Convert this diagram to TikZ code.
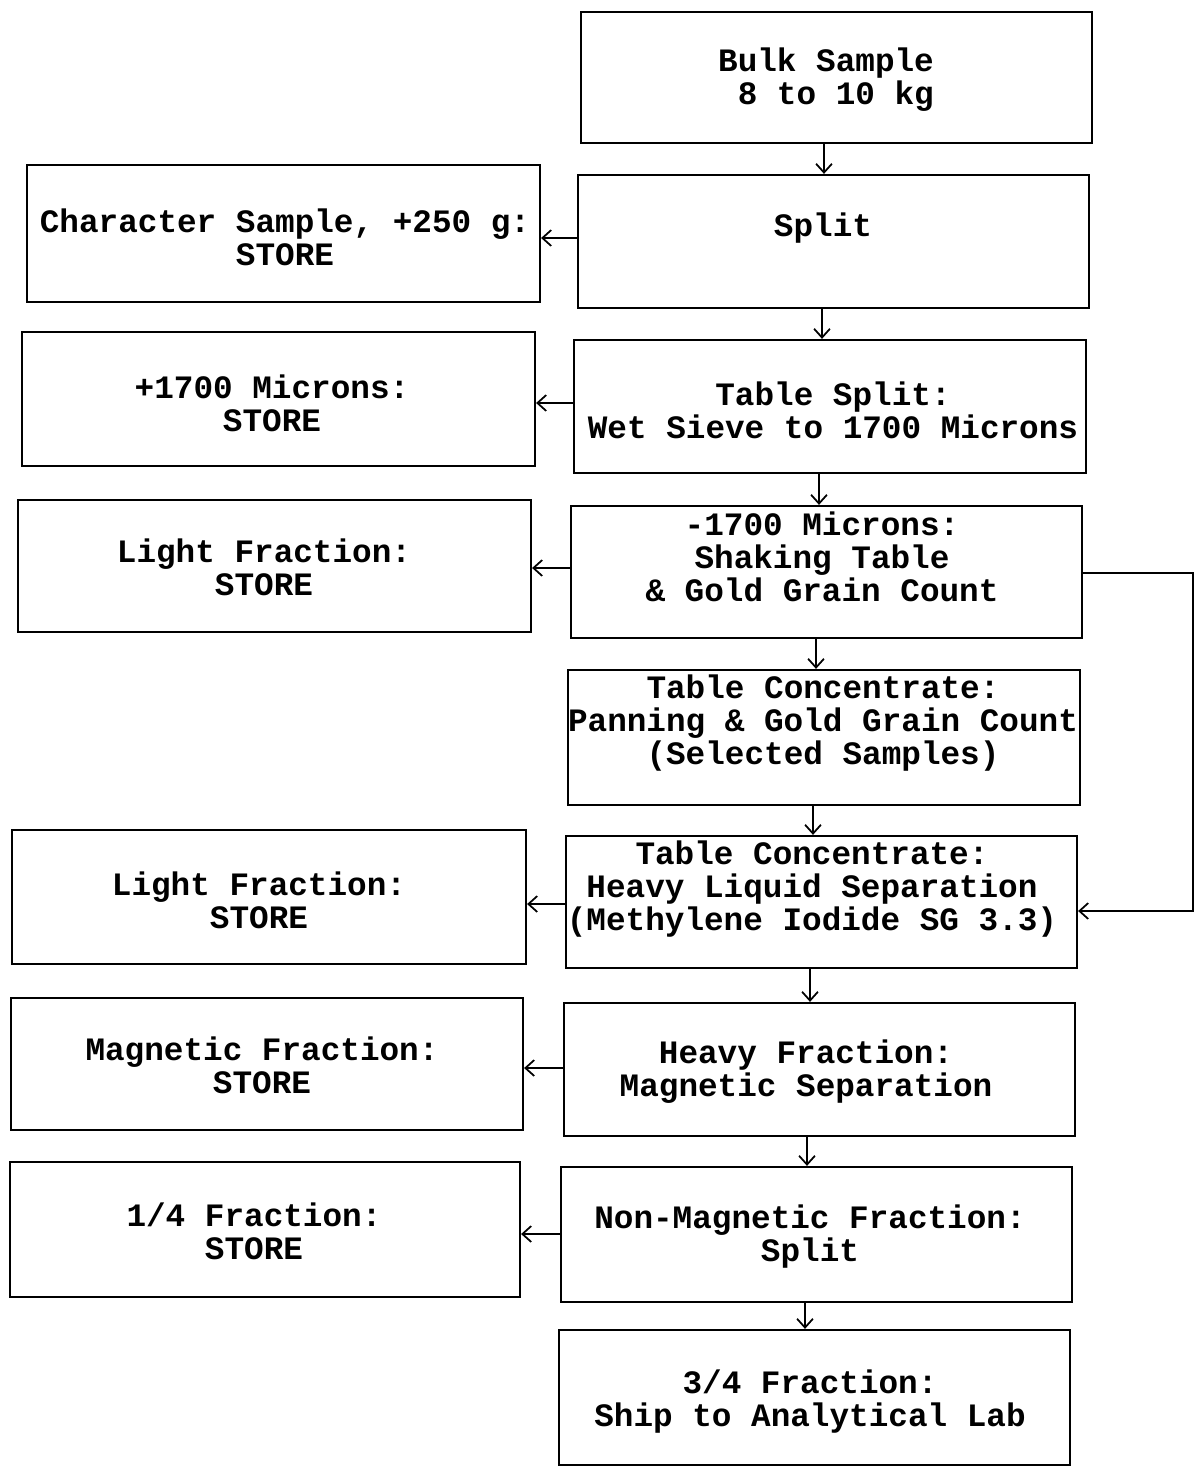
\documentclass[tikz,border=0pt]{standalone}
\usepackage{fontspec}
\setmainfont{Liberation Mono}
\usetikzlibrary{arrows.meta}
\begin{document}
\begin{tikzpicture}[x=0.02cm,y=-0.02cm,
  box/.style={draw,line width=1.3pt,rectangle,inner sep=0pt},
  lbl/.style={align=center,inner sep=0pt,font=\fontsize{18.6}{18.8}\selectfont\bfseries},
  conn/.style={line width=1.2pt,-{Straight Barb[length=5pt,width=9pt,line width=1pt]}},
  line/.style={line width=1.2pt}]
\useasboundingbox (0,0) rectangle (1194,1468);
% right column boxes
\node[box,minimum width=10.22cm,minimum height=2.62cm] (bulk) at (836.5,77.5) {};
\node[box,minimum width=10.22cm,minimum height=2.66cm] (split) at (833.5,241.5) {};
\node[box,minimum width=10.24cm,minimum height=2.66cm] (tsplit) at (830,406.5) {};
\node[box,minimum width=10.22cm,minimum height=2.64cm] (shake) at (826.5,572) {};
\node[box,minimum width=10.24cm,minimum height=2.70cm] (pan) at (824,737.5) {};
\node[box,minimum width=10.22cm,minimum height=2.64cm] (hls) at (821.5,902) {};
\node[box,minimum width=10.22cm,minimum height=2.66cm] (hf) at (819.5,1069.5) {};
\node[box,minimum width=10.22cm,minimum height=2.70cm] (nm) at (816.5,1234.5) {};
\node[box,minimum width=10.22cm,minimum height=2.70cm] (ship) at (814.5,1397.5) {};
% left column boxes
\node[box,minimum width=10.26cm,minimum height=2.74cm] (cs) at (283.5,233.5) {};
\node[box,minimum width=10.26cm,minimum height=2.68cm] (p1700) at (278.5,399) {};
\node[box,minimum width=10.26cm,minimum height=2.64cm] (lf1) at (274.5,566) {};
\node[box,minimum width=10.28cm,minimum height=2.68cm] (lf2) at (269,897) {};
\node[box,minimum width=10.24cm,minimum height=2.64cm] (mf) at (267,1064) {};
\node[box,minimum width=10.20cm,minimum height=2.70cm] (qf) at (265,1229.5) {};
% texts
\node[lbl] (tbulk) at (826,80) {Bulk Sample\\\hphantom{B}8 to 10 kg};
\node[lbl] (tsplit1) at (823,228) {Split};
\node[lbl] (ttsplit) at (833,410) {Table Split:\\Wet Sieve to 1700 Microns};
\node[lbl] (tshake) at (822,557) {-1700 Microns:\\Shaking Table\\\& Gold Grain Count};
\node[lbl] (tpan) at (823,723) {Table Concentrate:\\Panning \& Gold Grain Count\\(Selected Samples)};
\node[lbl] (thls) at (812,889) {Table Concentrate:\\Heavy Liquid Separation\\(Methylene Iodide SG 3.3)};
\node[lbl] (thf) at (806,1072) {Heavy Fraction:\\Magnetic Separation};
\node[lbl] (tnm) at (810,1237) {Non-Magnetic Fraction:\\Split};
\node[lbl] (tship) at (810,1402) {3/4 Fraction:\\Ship to Analytical Lab};
\node[lbl] (tcs) at (285,237) {Character Sample, +250 g:\\STORE};
\node[lbl] (tp1700) at (272,403) {+1700 Microns:\\STORE};
\node[lbl] (tlf1) at (264,567) {Light Fraction:\\STORE};
\node[lbl] (tlf2) at (259,900) {Light Fraction:\\STORE};
\node[lbl] (tmf) at (262,1065) {Magnetic Fraction:\\STORE};
\node[lbl] (tqf) at (254,1231) {1/4 Fraction:\\STORE};
% down arrows
\draw[conn] (bulk.south -| 824,0) -- (split.north -| 824,0);
\draw[conn] (split.south -| 822,0) -- (tsplit.north -| 822,0);
\draw[conn] (tsplit.south -| 819,0) -- (shake.north -| 819,0);
\draw[conn] (shake.south -| 816,0) -- (pan.north -| 816,0);
\draw[conn] (pan.south -| 813,0) -- (hls.north -| 813,0);
\draw[conn] (hls.south -| 810,0) -- (hf.north -| 810,0);
\draw[conn] (hf.south -| 807,0) -- (nm.north -| 807,0);
\draw[conn] (nm.south -| 805,0) -- (ship.north -| 805,0);
% left arrows
\draw[conn] (split.west |- 0,238) -- (cs.east |- 0,238);
\draw[conn] (tsplit.west |- 0,403) -- (p1700.east |- 0,403);
\draw[conn] (shake.west |- 0,568) -- (lf1.east |- 0,568);
\draw[conn] (hls.west |- 0,904) -- (lf2.east |- 0,904);
\draw[conn] (hf.west |- 0,1068) -- (mf.east |- 0,1068);
\draw[conn] (nm.west |- 0,1234) -- (qf.east |- 0,1234);
% bypass
\coordinate (byA) at (1193,573);
\coordinate (byB) at (1193,911);
\draw[conn] (shake.east |- byA) -- (byA) -- (byB) -- (hls.east |- byB);
\end{tikzpicture}
\end{document}
